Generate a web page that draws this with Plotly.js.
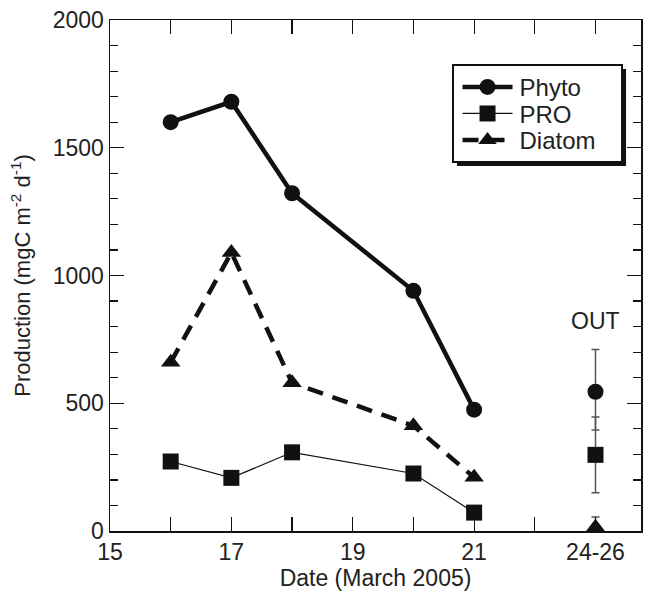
<!DOCTYPE html>
<html><head><meta charset="utf-8">
<script src="https://cdn.plot.ly/plotly-3.0.1.min.js"></script>
<style>body{margin:0;background:#fff}#c{width:655px;height:596px}</style>
</head><body><div id="c"></div>
<script>
const dates = [16, 17, 18, 20, 21];
const phyto = [1600, 1680, 1322, 940, 475];
const pro = [272, 208, 308, 225, 72];
const diatom = [660, 1090, 580, 412, 210];
const outX = [23];
const outPhyto = [545], outPhytoUp = [165], outPhytoDn = [150];
const outPro = [298], outProErr = [148];
const outDiatom = [15], outDiatomErr = [40];
const xTickVals = [15, 17, 19, 21, 23];
const xTickText = ['15', '17', '19', '21', '24-26'];
const yTickVals = [0, 500, 1000, 1500, 2000];

const black = '#111';
const ebColor = '#555';
const traces = [
  {x: dates, y: phyto, name: 'Phyto', mode: 'lines+markers',
   line: {color: black, width: 4.5}, marker: {symbol: 'circle', size: 16, color: black}},
  {x: dates, y: pro, name: 'PRO', mode: 'lines+markers',
   line: {color: black, width: 1.2}, marker: {symbol: 'square', size: 16, color: black}},
  {x: dates, y: diatom, name: 'Diatom', mode: 'lines+markers',
   line: {color: black, width: 4.5, dash: '16px,10px'}, marker: {symbol: 'triangle-up', size: 17, color: black}},
  {x: outX, y: outPhyto, mode: 'markers', showlegend: false,
   marker: {symbol: 'circle', size: 16, color: black},
   error_y: {type: 'data', symmetric: false, array: outPhytoUp, arrayminus: outPhytoDn, color: ebColor, thickness: 1.5, width: 4}},
  {x: outX, y: outPro, mode: 'markers', showlegend: false,
   marker: {symbol: 'square', size: 16, color: black},
   error_y: {type: 'data', array: outProErr, color: ebColor, thickness: 1.5, width: 4}},
  {x: outX, y: outDiatom, mode: 'markers', showlegend: false, cliponaxis: false,
   marker: {symbol: 'triangle-up', size: 17, color: black},
   error_y: {type: 'data', array: outDiatomErr, color: ebColor, thickness: 1.5, width: 4}}
];

const fam = 'Liberation Sans, Arial, sans-serif';
const F = s => ({family: fam, size: s, color: '#222'});
const layout = {
  width: 655, height: 596,
  margin: {l: 110, r: 14, t: 20, b: 65},
  paper_bgcolor: '#fff', plot_bgcolor: '#fff',
  font: F(22),
  showlegend: true,
  legend: {x: 0.646, y: 0.912, xanchor: 'left', yanchor: 'top', bgcolor: '#fff',
    bordercolor: black, borderwidth: 1.5, font: F(24), tracegroupgap: 0, itemwidth: 30},
  xaxis: {range: [15, 23.75], tickmode: 'array', tickvals: xTickVals, ticktext: xTickText,
    ticks: 'inside', ticklen: 14, tickwidth: 1.2, tickcolor: black,
    minor: {dtick: 1, tick0: 15, ticks: 'inside', ticklen: 14, tickwidth: 1.2, tickcolor: black, showgrid: false},
    showline: true, linecolor: black, linewidth: 1.5, mirror: 'ticks',
    showgrid: false, zeroline: false, tickfont: F(23),
    title: {text: 'Date (March 2005)', font: F(23), standoff: 4}},
  yaxis: {range: [0, 2000], tickmode: 'array', tickvals: yTickVals,
    ticks: 'inside', ticklen: 14, tickwidth: 1.2, tickcolor: black,
    minor: {dtick: 100, ticks: 'inside', ticklen: 8, tickwidth: 1.2, tickcolor: black, showgrid: false},
    showline: true, linecolor: black, linewidth: 1.5, mirror: 'ticks',
    showgrid: false, zeroline: false, tickfont: F(23),
    title: {text: 'Production (mgC m<sup>-2</sup> d<sup>-1</sup>)', font: F(22), standoff: 16}},
  annotations: [
    {x: 23, y: 820, xref: 'x', yref: 'y', text: 'OUT', showarrow: false, font: F(23)}
  ]
};

Plotly.newPlot('c', traces, layout, {displayModeBar: false, staticPlot: true}).then(function (gd) {
  const NS = 'http://www.w3.org/2000/svg';
  const leg = gd.querySelector('.legend');
  if (!leg) return;
  const rowGap = 26.5, topPad = 22, lineX = 8, lineLen = 50, markX = 33, textX = 65, rightPad = 28;
  let maxW = 0;
  leg.querySelectorAll('.traces').forEach(function (t, i) {
    const tr = t.getAttribute('transform') || '';
    const m = /translate\(([-\d.]+)[ ,]+([-\d.]+)\)/.exec(tr);
    const tx0 = m ? parseFloat(m[1]) : 0;
    t.setAttribute('transform', 'translate(' + tx0 + ',' + (topPad + i * rowGap) + ')');
    const lp = t.querySelector('.legendlines path');
    if (lp) lp.setAttribute('d', 'M' + lineX + ',0h' + lineLen);
    t.querySelectorAll('.legendpoints path').forEach(function (p) {
      p.setAttribute('transform', 'translate(' + markX + ',0)');
    });
    const txt = t.querySelector('.legendtext');
    if (txt) {
      txt.setAttribute('x', textX);
      txt.querySelectorAll('tspan').forEach(function (s) { if (s.getAttribute('x')) s.setAttribute('x', textX); });
      maxW = Math.max(maxW, txt.getBBox().width);
    }
  });
  const sb = leg.querySelector('.scrollbox');
  if (sb) { sb.removeAttribute('clip-path'); sb.setAttribute('transform', 'translate(0,0)'); }
  const bg = leg.querySelector('.bg');
  const w = textX + maxW + rightPad;
  const h = topPad * 2 + rowGap * 2;
  bg.setAttribute('width', w);
  bg.setAttribute('height', h);
  bg.setAttribute('x', 0); bg.setAttribute('y', 0);
  const sh = document.createElementNS(NS, 'rect');
  sh.setAttribute('x', 4);
  sh.setAttribute('y', 4);
  sh.setAttribute('width', w);
  sh.setAttribute('height', h);
  sh.setAttribute('fill', black);
  leg.insertBefore(sh, bg);
});
</script>
</body></html>
